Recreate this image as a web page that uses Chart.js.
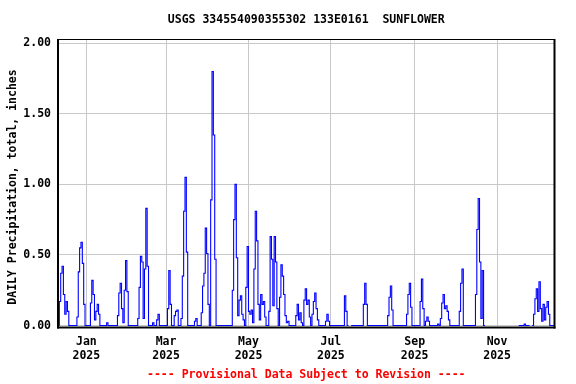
<!DOCTYPE html>
<html><head><meta charset="utf-8">
<script src="https://cdn.jsdelivr.net/npm/chart.js@4/dist/chart.umd.min.js"></script>
<style>html,body{margin:0;padding:0;background:#fff}#wrap{width:576px;height:384px}</style>
</head><body><div id="wrap"><canvas id="c" width="576" height="384"></canvas></div>
<script>
// Days counted from 2025-01-01 (day 0). Daily precipitation totals, inches.
const rainDays = [-19,-18,-17,-16,-15,-14,-13,-6,-5,-4,-3,-2,-1,4,5,6,7,8,9,10,16,24,25,26,27,28,29,30,31,
  39,40,41,42,43,44,45,46,50,53,54,61,62,63,66,67,68,71,72,73,74,75,81,82,86,87,88,89,90,91,93,94,95,96,
  109,110,111,112,113,114,115,116,117,119,120,121,122,123,124,125,126,127,128,129,130,131,132,133,
  136,137,138,139,140,141,142,144,145,146,147,148,149,150,156,157,158,159,160,162,163,164,165,166,
  168,169,170,171,172,178,179,180,192,193,206,207,208,224,225,226,227,238,239,240,241,248,249,250,
  252,253,254,261,263,264,265,266,267,268,269,277,278,279,289,290,291,292,293,294,325,
  332,333,334,335,336,337,338,339,340,341,342,343];
const rainValues = [0.17,0.37,0.42,0.22,0.08,0.17,0.10,0.06,0.38,0.55,0.59,0.44,0.15,0.16,0.32,0.22,0.04,0.10,0.15,0.08,0.02,0.07,0.23,0.30,0.12,0.02,0.25,0.46,0.24,
  0.05,0.27,0.49,0.45,0.05,0.40,0.83,0.42,0.02,0.04,0.08,0.12,0.39,0.15,0.07,0.10,0.11,0.05,0.35,0.81,1.05,0.52,0.03,0.05,0.09,0.28,0.37,0.69,0.51,0.15,0.89,1.80,1.35,0.47,
  0.25,0.75,1.00,0.48,0.07,0.18,0.21,0.08,0.04,0.27,0.56,0.10,0.08,0.11,0.02,0.40,0.81,0.60,0.15,0.04,0.22,0.15,0.17,0.06,
  0.10,0.63,0.47,0.14,0.63,0.45,0.12,0.20,0.43,0.35,0.22,0.07,0.02,0.03,0.07,0.15,0.04,0.09,0.02,0.18,0.26,0.15,0.18,0.06,
  0.08,0.17,0.23,0.12,0.04,0.03,0.08,0.03,0.21,0.10,0.15,0.30,0.15,0.07,0.20,0.28,0.11,0.08,0.22,0.30,0.13,0.17,0.33,0.12,
  0.03,0.06,0.03,0.01,0.05,0.16,0.22,0.12,0.14,0.10,0.04,0.10,0.30,0.40,0.22,0.68,0.90,0.45,0.05,0.39,0.01,
  0.08,0.19,0.26,0.10,0.31,0.12,0.03,0.15,0.04,0.13,0.17,0.08];
const missingDays = [195, 329];
const missingRanges = [[296, 319]];
const firstDay = -21;
const lastDay = 346;
const monthTickDays = [0, 59, 120, 181, 243, 304];
const monthTickLabels = [['Jan','2025'],['Mar','2025'],['May','2025'],['Jul','2025'],['Sep','2025'],['Nov','2025']];
const yTickValues = [0, 0.5, 1.0, 1.5, 2.0];
const titleText = 'USGS 334554090355302 133E0161  SUNFLOWER';
const yTitleText = 'DAILY Precipitation, total, inches';
const footerText = '---- Provisional Data Subject to Revision ----';

function isMissing(d) {
  if (missingDays.includes(d)) return true;
  return missingRanges.some(r => d >= r[0] && d <= r[1]);
}
const points = [];
for (let d = firstDay; d <= lastDay; d++) {
  if (isMissing(d)) { points.push({x: d, y: null}); continue; }
  const i = rainDays.indexOf(d);
  points.push({x: d, y: i >= 0 ? rainValues[i] : 0});
}

const FONT = 'DejaVu Sans Mono';
const f = {family: FONT, size: 11.5, weight: 'bold', lineHeight: 1.2};
const fontStr = 'bold 11.5px "DejaVu Sans Mono"';

const framePlugin = {
  id: 'frame',
  afterDatasetsDraw(chart) {
    const {ctx, chartArea: a} = chart;
    ctx.save();
    ctx.strokeStyle = '#000';
    ctx.lineWidth = 1;
    ctx.beginPath(); ctx.moveTo(a.left, a.top - 0.5); ctx.lineTo(a.right, a.top - 0.5); ctx.stroke();
    ctx.lineWidth = 2;
    ctx.beginPath(); ctx.moveTo(a.left, a.top - 1); ctx.lineTo(a.left, a.bottom + 1); ctx.stroke();
    ctx.beginPath(); ctx.moveTo(a.left - 1, a.bottom); ctx.lineTo(a.right + 1, a.bottom); ctx.stroke();
    ctx.beginPath(); ctx.moveTo(a.right, a.top - 1); ctx.lineTo(a.right, a.bottom + 1); ctx.stroke();
    ctx.restore();
  },
  afterDraw(chart) {
    const {ctx, chartArea: a} = chart;
    const cx = (a.left + a.right) / 2;
    ctx.save();
    ctx.font = fontStr;
    ctx.textAlign = 'center';
    ctx.textBaseline = 'middle';
    ctx.fillStyle = '#000';
    ctx.fillText(titleText, cx, 20);
    ctx.fillStyle = '#ff0000';
    ctx.fillText(footerText, cx, 375.5);
    ctx.fillStyle = '#000';
    ctx.translate(13.5, 187);
    ctx.rotate(-Math.PI / 2);
    ctx.fillText(yTitleText, 0, 0);
    ctx.restore();
  }
};

new Chart(document.getElementById('c'), {
  type: 'line',
  data: { datasets: [{
    data: points,
    borderColor: '#0000ff',
    borderWidth: 1.1,
    pointRadius: 0,
    stepped: 'after',
    spanGaps: false,
    fill: false
  }]},
  options: {
    responsive: false,
    animation: false,
    devicePixelRatio: 1,
    layout: {padding: {left: 0, right: 21.5, top: 40, bottom: 20.5}},
    plugins: {
      legend: {display: false},
      tooltip: {enabled: false},
      title: {display: false},
      subtitle: {display: false}
    },
    scales: {
      x: {
        type: 'linear', min: firstDay, max: 346.5,
        afterFit(s) { s.height = 36; },
        afterBuildTicks(s) { s.ticks = monthTickDays.map(v => ({value: v})); },
        ticks: {
          autoSkip: false, maxRotation: 0, padding: 8, color: '#000', font: f,
          callback(v) { const i = monthTickDays.indexOf(v); return i >= 0 ? monthTickLabels[i] : ''; }
        },
        grid: {color: '#c8c8c8', lineWidth: 1, drawTicks: false},
        border: {display: false}
      },
      y: {
        min: -0.014, max: 2.023,
        afterFit(s) { s.width = 58; },
        afterBuildTicks(s) { s.ticks = yTickValues.map(v => ({value: v})); },
        ticks: {padding: 7, color: '#000', font: f, callback(v) { return Number(v).toFixed(2); }},
        grid: {color: '#c8c8c8', lineWidth: 1, drawTicks: false},
        border: {display: false}
      }
    }
  },
  plugins: [framePlugin]
});
</script>
</body></html>
